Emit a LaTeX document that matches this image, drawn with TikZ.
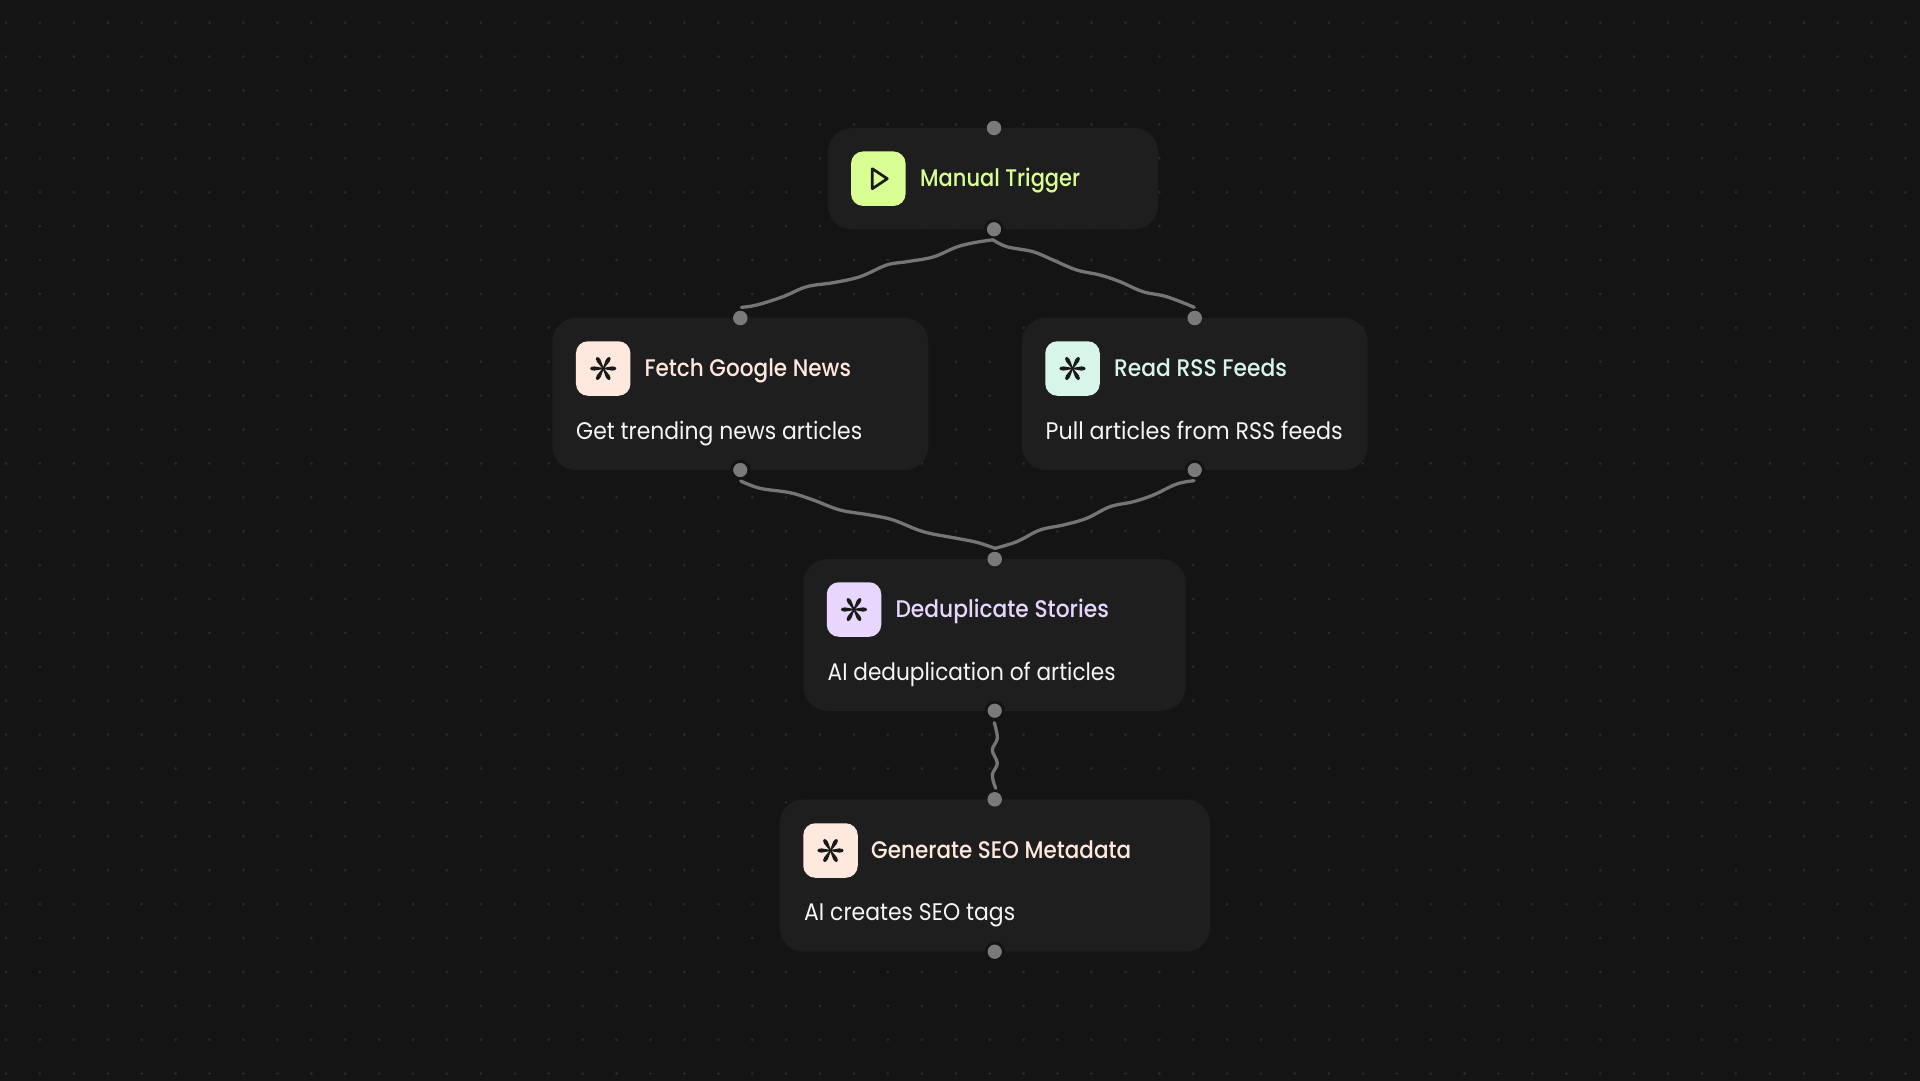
\documentclass[tikz,border=0pt]{standalone}
\usepackage{graphicx}
\usepackage{fontspec}
\usetikzlibrary{calc}
\setmainfont{Poppins}
\newfontfamily\ttlfont{Poppins Medium}
\definecolor{bgc}{HTML}{141414}
\definecolor{dotc}{HTML}{292929}
\definecolor{cardc}{HTML}{1F1F1F}
\definecolor{wirec}{HTML}{757575}
\definecolor{handc}{HTML}{7A7A7A}
\definecolor{inkc}{HTML}{1A1A1A}
\definecolor{lime}{HTML}{D9FF94}
\definecolor{peach}{HTML}{FFE8DD}
\definecolor{mint}{HTML}{D8F5EA}
\definecolor{lav}{HTML}{E8D6FF}
\definecolor{desc}{HTML}{F5F5F5}
\newcommand{\fitw}[2]{\resizebox{#1pt}{\height}{#2}}
\tikzset{
  card/.style={fill=cardc,fill opacity=.92,rounded corners=24pt,inner sep=0,draw=none},
  iconbox/.style={minimum size=54.5pt,inner sep=0,rounded corners=12pt},
  handle/.style={circle,fill=handc,minimum size=14.5pt,inner sep=0},
  handlering/.style={handle,draw=bgc,line width=3pt,minimum size=17.5pt},
  wire/.style={draw=wirec,line width=3.3pt,line cap=round,line join=round},
  ttl/.style={anchor=base west,inner sep=0,font=\ttlfont\fontsize{24}{24}\selectfont},
  dsc/.style={anchor=base west,inner sep=0,text=desc,font=\fontsize{24}{24}\selectfont},
  smoothw/.style={smooth,tension=.6},
}
\newcommand{\astk}[1]{%
  \foreach \a in {0,60,...,300}{%
    \fill[inkc,shift={(#1)},rotate=\a]
      (0,-.6) -- (9,-2.1) .. controls (14.4,-2.5) and (14.4,2.5) .. (9,2.1) -- (0,.6) -- cycle;
  }}
\begin{document}
\begin{tikzpicture}[x=1pt,y=-1pt]
\fill[bgc] (-2,-2) rectangle (1923,1083);
\foreach \i in {0,...,56}{\foreach \j in {0,...,31}{%
  \fill[dotc] ({6+33.92*\i},{22.7+33.9*\j}) circle (1.6pt);}}

% cards
\node[card,minimum width=330pt,minimum height=101.5pt] (trig) at (993,178.7) {};
\node[card,minimum width=376pt,minimum height=152.3pt] (fetch) at (740.3,394) {};
\node[card,minimum width=345.7pt,minimum height=152.3pt] (rss) at (1194.8,394) {};
\node[card,minimum width=382.4pt,minimum height=151.7pt] (dedup) at (994.5,634.9) {};
\node[card,minimum width=430.3pt,minimum height=152.4pt] (seo) at (994.8,875.5) {};

% icons
\node[iconbox,fill=lime] (itrig) at (878.3,178.7) {};
\node[iconbox,fill=peach] (ifetch) at (603.2,368.5) {};
\node[iconbox,fill=mint] (irss) at (1072.5,368.5) {};
\node[iconbox,fill=lav] (idedup) at (854,609.5) {};
\node[iconbox,fill=peach] (iseo) at (830.5,850.5) {};
\draw[inkc,line width=2.7pt,line join=round] ($(itrig)+(-6,-10)$) -- ($(itrig)+(-6,10)$) -- ($(itrig)+(9,0)$) -- cycle;
\astk{ifetch}
\astk{irss}
\astk{idedup}
\astk{iseo}

% texts
\node[ttl,text=lime] (ttrig) at (920,186.7) {\fitw{160}{Manual Trigger}};
\node[ttl,text=peach] (tfetch) at (644.3,376.7) {\fitw{206.5}{Fetch Google News}};
\node[ttl,text=mint] (trss) at (1114,376.7) {\fitw{172.7}{Read RSS Feeds}};
\node[ttl,text=lav] (tdedup) at (895.3,617.3) {\fitw{213.4}{Deduplicate Stories}};
\node[ttl,text=peach] (tseo) at (871,858.3) {\fitw{260}{Generate SEO Metadata}};
\node[dsc] (dfetch) at (576,439) {\fitw{286}{Get trending news articles}};
\node[dsc] (drss) at (1045.5,439) {\fitw{297}{Pull articles from RSS feeds}};
\node[dsc] (ddedup) at (827.5,680) {\fitw{288}{AI deduplication of articles}};
\node[dsc] (dseo) at (804,920) {\fitw{211}{AI creates SEO tags}};

% handles
\node[handle] (htt) at (994,128) {};
\node[handlering] (htb) at (994,229.3) {};
\node[handle] (hft) at (740.3,318) {};
\node[handlering] (hfb) at (740.3,470) {};
\node[handle] (hrt) at (1194.7,318) {};
\node[handlering] (hrb) at (1194.7,470) {};
\node[handle] (hdt) at (994.7,559) {};
\node[handlering] (hdb) at (994.7,710.7) {};
\node[handle] (hst) at (994.7,799.3) {};
\node[handlering] (hsb) at (994.7,951.7) {};

% connectors
\draw[wire] plot[smoothw] coordinates {($(htb)+(-1,10.5)$) (975,242.5) (956.7,247) (933,257) (906.7,261.7) (886.7,265) (860,276.7) (833,282.7) (806.7,286.7) (783,296.7) (756.7,305) ($(hft)+(1.2,-10.7)$)};
\draw[wire] plot[smoothw] coordinates {($(htb)+(-1,10.5)$) (1006.7,246.7) (1033,251.7) (1053,260) (1076.7,270) (1100,275) (1120,281.7) (1143,291.7) (1166.7,296.7) ($(hrt)+(-.4,-10.7)$)};
\draw[wire] plot[smoothw] coordinates {($(hfb)+(.4,11)$) (760,488.3) (790,492.7) (813.3,500) (840,510) (870,515) (893.3,520) (923.3,531.7) (956.7,538.3) (976.7,542.3) ($(hdt)+(.3,-10.7)$)};
\draw[wire] plot[smoothw] coordinates {($(hrb)+(-.7,10.7)$) (1176.7,484) (1153.3,495) (1133.3,501.7) (1110,506.7) (1086.7,518.3) (1063.3,525) (1040,530) (1016.7,541.7) ($(hdt)+(.3,-10.7)$)};
\draw[wire] plot[smoothw] coordinates {($(hdb)+(-.4,12)$) (997.3,738.3) (992.3,750) (997.3,763.3) (992.3,775) ($(hst)+(1,-11)$)};
\pgfresetboundingbox
\useasboundingbox (0,0) rectangle (1920,1080);
\end{tikzpicture}
\end{document}
